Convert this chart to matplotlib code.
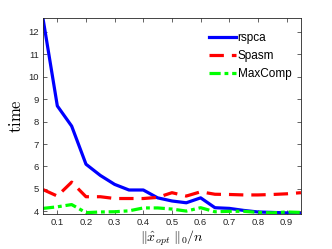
import matplotlib
matplotlib.use('Agg')
import matplotlib.pyplot as plt

plt.rcParams['font.family'] = ['Liberation Sans', 'DejaVu Sans']
plt.rcParams['mathtext.fontset'] = 'cm'

# data
sparsity = [0.05, 0.10, 0.15, 0.20, 0.25, 0.30, 0.35, 0.40, 0.45, 0.50,
            0.55, 0.60, 0.65, 0.70, 0.75, 0.80, 0.85, 0.90, 0.95]
rspca = [12.6, 8.7, 7.8, 6.1, 5.6, 5.2, 4.95, 4.95, 4.6, 4.46,
         4.38, 4.6, 4.16, 4.13, 4.04, 3.97, 3.95, 3.93, 3.9]
spasm = [4.97, 4.68, 5.3, 4.65, 4.65, 4.57, 4.57, 4.57, 4.62, 4.83,
         4.68, 4.87, 4.76, 4.75, 4.73, 4.73, 4.75, 4.78, 4.83]
maxcomp = [4.13, 4.2, 4.3, 3.94, 3.97, 3.98, 4.02, 4.15, 4.15, 4.1,
           4.01, 4.16, 3.98, 4.0, 4.0, 3.95, 3.93, 3.97, 3.95]
xticks = [0.1, 0.2, 0.3, 0.4, 0.5, 0.6, 0.7, 0.8, 0.9]
yticks = [4, 5, 6, 7, 8, 9, 10, 11, 12]

fig = plt.figure(figsize=(3.32, 2.49), dpi=100)
ax = fig.add_axes([0.1295, 0.1406, 0.777, 0.787])

ax.plot(sparsity, rspca, color='#0000ff', lw=2.3, ls='-', label='rspca')
ax.plot(sparsity, spasm, color='#ff0000', lw=2.3, ls=(0, (4.5, 2.5)), label='Spasm')
ax.plot(sparsity, maxcomp, color='#00ff00', lw=2.3, ls=(0, (3.5, 1.2, 1.2, 1.2)), label='MaxComp')

ax.set_xlim(0.05, 0.95)
ax.set_ylim(3.88, 12.62)
ax.set_xticks(xticks)
ax.set_xticklabels([f'{v:.1f}' for v in xticks])
ax.set_yticks(yticks)
ax.tick_params(direction='in', top=True, right=True, labelsize=6.8, length=3,
               width=0.5, colors='#262626', pad=3)
for s in ax.spines.values():
    s.set_linewidth(0.6)
    s.set_color('#262626')

ax.set_xlabel(r'$\|\hat{x}_{opt}\ \|_0/n$', fontsize=10, labelpad=1)
ax.set_ylabel(r'$\mathrm{time}$', fontsize=12, labelpad=3)

ax.legend(loc='upper right', frameon=False, fontsize=8.5, handlelength=2.3,
          handletextpad=0.1, labelspacing=0.5, borderaxespad=0.3,
          bbox_to_anchor=(0.995, 0.97))

fig.savefig('out.png', dpi=100)
